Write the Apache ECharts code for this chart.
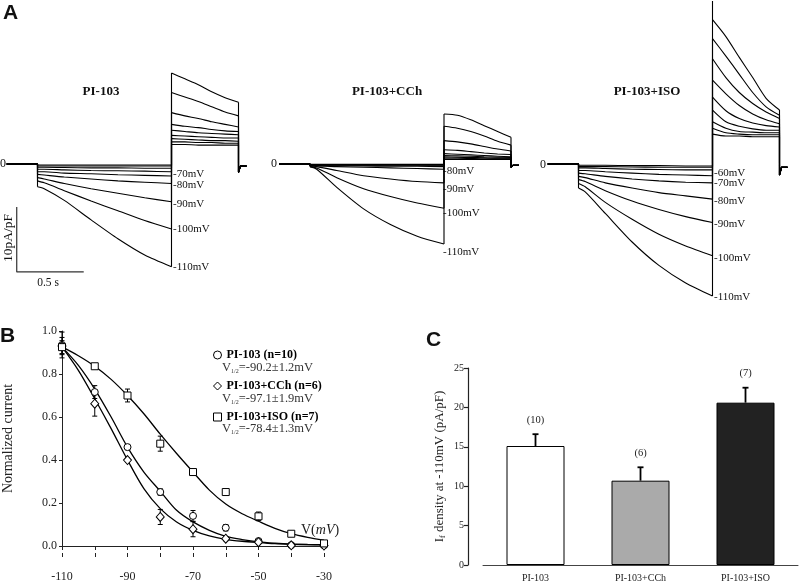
<!DOCTYPE html>
<html><head><meta charset="utf-8">
<script src="https://cdn.jsdelivr.net/npm/echarts@6/dist/echarts.min.js"></script>
<style>html,body{margin:0;padding:0;background:#fff}#c{width:799px;height:583px}</style>
</head><body><div id="c"></div>
<script>
// ================= Panel A : current traces (pA/pF vs s) =================
const traceVoltages = [-110, -100, -90, -80, -70, -60, -50, -40, -30];
const holdStart = -0.23;
const stepTimes = [0, 0.05, 0.2, 0.4, 0.6, 0.8, 1.0];
const tailTimes = [1.0, 1.1, 1.2, 1.3, 1.4, 1.5];
const afterTimes = [1.5, 1.515, 1.56];

const pi103Step = [
  [-3.5, -3.8, -5.6, -8.6, -11.5, -14.0, -15.8],
  [-2.6, -2.9, -4.1, -5.7, -7.2, -8.7, -10.0],
  [-2.1, -2.3, -3.0, -3.8, -4.5, -5.2, -5.8],
  [-1.6, -1.7, -2.0, -2.3, -2.6, -2.8, -3.0],
  [-1.2, -1.2, -1.4, -1.5, -1.65, -1.75, -1.85],
  [-0.8, -0.8, -0.9, -1.0, -1.05, -1.1, -1.2],
  [-0.5, -0.5, -0.55, -0.6, -0.6, -0.65, -0.65],
  [-0.3, -0.3, -0.3, -0.3, -0.3, -0.3, -0.3],
  [-0.15, -0.15, -0.15, -0.15, -0.15, -0.15, -0.15]
];
const pi103Tail = [
  [14.0, 13.1, 12.2, 11.1, 10.2, 9.5],
  [11.0, 10.3, 9.6, 8.8, 8.0, 7.4],
  [7.9, 7.4, 7.0, 6.5, 6.1, 5.7],
  [6.1, 5.8, 5.6, 5.3, 5.1, 5.0],
  [5.2, 5.0, 4.8, 4.7, 4.6, 4.5],
  [4.4, 4.3, 4.2, 4.1, 4.0, 4.0],
  [3.9, 3.8, 3.7, 3.6, 3.6, 3.5],
  [3.4, 3.4, 3.3, 3.3, 3.2, 3.2],
  [3.0, 3.0, 2.9, 2.9, 2.9, 2.9]
];
const pi103After = [-1.3, -0.3, -0.3];

const cchStep = [
  [-0.4, -0.8, -3.6, -6.9, -9.3, -11.1, -12.3],
  [-0.4, -0.6, -2.1, -3.8, -5.0, -6.0, -6.8],
  [-0.3, -0.4, -1.0, -1.8, -2.3, -2.7, -2.9],
  [-0.3, -0.3, -0.4, -0.5, -0.6, -0.7, -0.8],
  [-0.25, -0.25, -0.3, -0.3, -0.35, -0.35, -0.4],
  [-0.2, -0.2, -0.2, -0.2, -0.2, -0.2, -0.2],
  [-0.15, -0.15, -0.15, -0.15, -0.15, -0.15, -0.15],
  [-0.1, -0.1, -0.1, -0.1, -0.1, -0.1, -0.1],
  [-0.05, -0.05, -0.05, -0.05, -0.05, -0.05, -0.05]
];
const cchTail = [
  [7.7, 7.5, 6.8, 5.9, 5.0, 4.1],
  [5.8, 5.5, 5.0, 4.3, 3.5, 2.9],
  [3.6, 3.4, 3.1, 2.7, 2.3, 2.0],
  [2.2, 2.1, 1.9, 1.7, 1.55, 1.45],
  [1.6, 1.5, 1.4, 1.3, 1.2, 1.1],
  [1.3, 1.25, 1.2, 1.1, 1.05, 1.0],
  [1.1, 1.05, 1.0, 0.95, 0.9, 0.9],
  [0.9, 0.9, 0.85, 0.8, 0.8, 0.8],
  [0.7, 0.7, 0.7, 0.7, 0.7, 0.7]
];
const cchAfter = [-0.5, -0.2, -0.2];

const isoStep = [
  [-3.7, -4.3, -7.6, -12.0, -15.6, -18.3, -20.3],
  [-3.0, -3.5, -5.9, -8.5, -10.8, -12.6, -14.1],
  [-2.4, -2.7, -4.1, -5.7, -7.0, -8.1, -9.0],
  [-1.9, -2.1, -2.9, -3.7, -4.4, -4.9, -5.4],
  [-1.4, -1.5, -1.9, -2.3, -2.6, -2.8, -2.9],
  [-1.0, -1.0, -1.2, -1.4, -1.6, -1.7, -1.8],
  [-0.6, -0.6, -0.7, -0.8, -0.85, -0.9, -0.9],
  [-0.4, -0.4, -0.4, -0.45, -0.5, -0.5, -0.5],
  [-0.2, -0.2, -0.2, -0.25, -0.25, -0.3, -0.3]
];
const isoTail = [
  [22.2, 19.6, 16.4, 13.3, 10.1, 8.3],
  [19.3, 16.6, 13.8, 11.0, 8.8, 7.5],
  [16.2, 13.3, 11.0, 9.3, 8.0, 7.0],
  [12.9, 10.8, 9.0, 7.7, 6.8, 6.2],
  [10.3, 8.2, 7.0, 6.3, 5.9, 5.7],
  [8.3, 6.5, 5.8, 5.4, 5.2, 5.2],
  [6.5, 5.5, 5.0, 4.9, 4.8, 4.8],
  [5.5, 4.8, 4.6, 4.5, 4.5, 4.5],
  [4.6, 4.3, 4.3, 4.2, 4.2, 4.2]
];
const isoAfter = [-1.7, -0.5, -0.5];
const isoTailSpike = 26;

const panelATitles = ['PI-103', 'PI-103+CCh', 'PI-103+ISO'];
const scaleBarTime = 0.5;      // s
const scaleBarCurrent = 10;    // pA/pF
const scaleBarOrigin = [-0.155, -16.6];

// ================= Panel B : activation curves =================
const bVolt = [-110, -100, -90, -80, -70, -60, -50, -40, -30];
const piMean  = [0.935, 0.716, 0.46, 0.251, 0.14, 0.085, 0.023, 0.004, 0.003];
const piErr   = [0.06, 0.03, 0.012, 0.015, 0.025, 0.015, 0.006, 0.003, 0.003];
const cchMean = [0.93, 0.662, 0.40, 0.135, 0.078, 0.034, 0.018, 0.003, 0.002];
const cchErr  = [0.04, 0.058, 0.01, 0.035, 0.035, 0.01, 0.005, 0.003, 0.003];
const isoMean = [0.925, 0.836, 0.70, 0.476, 0.344, 0.251, 0.138, 0.057, 0.012];
const isoErr  = [0.03, 0.01, 0.03, 0.035, 0.01, 0.01, 0.02, 0.005, 0.005];
const fitVolt = [-110, -105, -100, -95, -90, -85, -80, -75, -70, -65, -60, -55, -50, -45, -40, -35, -30];
const piFit  = [0.926, 0.84, 0.73, 0.60, 0.46, 0.344, 0.255, 0.166, 0.112, 0.073, 0.045, 0.03, 0.019, 0.013, 0.009, 0.007, 0.006];
const cchFit = [0.926, 0.817, 0.685, 0.546, 0.40, 0.267, 0.174, 0.112, 0.073, 0.047, 0.031, 0.022, 0.016, 0.011, 0.008, 0.006, 0.005];
const isoFit = [0.926, 0.885, 0.836, 0.775, 0.70, 0.615, 0.52, 0.43, 0.344, 0.26, 0.195, 0.15, 0.115, 0.082, 0.057, 0.04, 0.027];
const bNames = ['PI-103 (n=10)', 'PI-103+CCh (n=6)', 'PI-103+ISO (n=7)'];
const bHalf = ['-90.2±1.2mV', '-97.1±1.9mV', '-78.4±1.3mV'];

// ================= Panel C : current density =================
const cCats = ['PI-103', 'PI-103+CCh', 'PI-103+ISO'];
const cMean = [15.1, 10.7, 20.6];
const cErr  = [1.5, 1.7, 1.9];
const cN    = [10, 6, 7];

// ================= layout / style =================
const SERIF = '"Liberation Serif","Times New Roman",serif';
const SANS = '"Liberation Sans",Arial,sans-serif';
const INK = '#111';
const PX_PER_S = 134, PX_PER_UNIT = 6.5;
const aXMin = -0.24, aXMax = 1.6, aYMin = -21, aYMax = 25;
const stepStartPx = [37.5, 310, 578.5];
const baselinePx = 164;

const grids = [];
const xAxes = [];
const yAxes = [];
stepStartPx.forEach((s, p) => {
  grids.push({left: s + aXMin * PX_PER_S, top: baselinePx - aYMax * PX_PER_UNIT,
    width: (aXMax - aXMin) * PX_PER_S, height: (aYMax - aYMin) * PX_PER_UNIT, outerBoundsMode: 'none'});
  xAxes.push({type: 'value', gridIndex: p, min: aXMin, max: aXMax, show: false});
  yAxes.push({type: 'value', gridIndex: p, min: aYMin, max: aYMax, show: false});
});
// Panel B grid (index 3)
grids.push({left: 62, top: 331, width: 262, height: 215, outerBoundsMode: 'none'});
const bAxisLabel = {fontFamily: SERIF, fontSize: 12, color: '#222'};
xAxes.push({type: 'value', gridIndex: 3, position: 'bottom', min: -110, max: -30, interval: 10, offset: 11,
  axisLine: {show: true, lineStyle: {color: '#222', width: 1}},
  axisTick: {show: true, length: 4, lineStyle: {color: '#222'}},
  axisLabel: Object.assign({margin: 14, formatter: v => ((v + 110) % 20 === 0 ? String(v) : '')}, bAxisLabel),
  splitLine: {show: false}});
xAxes.push({type: 'value', gridIndex: 3, position: 'bottom', min: -110, max: -30, interval: 10, offset: 11,
  axisLine: {show: false},
  axisTick: {show: true, inside: true, length: 4, lineStyle: {color: '#222'}},
  axisLabel: {show: false}, splitLine: {show: false}});
yAxes.push({type: 'value', gridIndex: 3, min: 0, max: 1, interval: 0.2,
  axisLine: {show: true, lineStyle: {color: '#222', width: 1}},
  axisTick: {show: true, length: 3, lineStyle: {color: '#222'}},
  axisLabel: Object.assign({margin: 5, formatter: v => v.toFixed(1)}, bAxisLabel),
  splitLine: {show: false},
  name: 'Normalized current', nameLocation: 'middle', nameGap: 47,
  nameTextStyle: {fontFamily: SERIF, fontSize: 14, color: '#222'}});
// Panel C grid (index 4)
grids.push({left: 483, top: 368, width: 315, height: 197, outerBoundsMode: 'none'});
xAxes.push({type: 'category', gridIndex: 4, data: cCats,
  axisLine: {show: true, lineStyle: {color: '#444', width: 1}},
  axisTick: {show: false},
  axisLabel: {margin: 8, fontFamily: SERIF, fontSize: 10, color: '#222'}});
yAxes.push({type: 'value', gridIndex: 4, min: 0, max: 25, interval: 5, offset: 15,
  axisLine: {show: true, lineStyle: {color: '#222', width: 1.2}},
  axisTick: {show: true, length: 4, lineStyle: {color: '#222', width: 1.2}},
  axisLabel: {margin: 4, fontFamily: SERIF, fontSize: 10, color: '#222'},
  splitLine: {show: false},
  name: '{n|I}{s|f}{n| density at -110mV (pA/pF)}', nameLocation: 'middle', nameGap: 21,
  nameTextStyle: {fontFamily: SERIF, fontSize: 13, color: '#222',
    rich: {n: {fontFamily: SERIF, fontSize: 13, color: '#222'},
           s: {fontFamily: SERIF, fontSize: 8, color: '#222', padding: [7, 0, 0, 0]}}}});

// ================= series =================
const series = [];
const BR = ['-', '-'];
const traceStyle = {color: '#000', width: 1.1};
const tracePanels = [
  {step: pi103Step, tail: pi103Tail, after: pi103After, spike: null},
  {step: cchStep, tail: cchTail, after: cchAfter, spike: null},
  {step: isoStep, tail: isoTail, after: isoAfter, spike: isoTailSpike}
];
tracePanels.forEach((pnl, p) => {
  pnl.step.forEach((s, k) => {
    const tl = pnl.tail[k];
    const base = {type: 'line', xAxisIndex: p, yAxisIndex: p, symbol: 'none', silent: true,
      animation: false, lineStyle: traceStyle, z: 2};
    series.push(Object.assign({}, base, {smooth: 0.25,
      data: stepTimes.map((t, i) => [t, s[i]])}));
    series.push(Object.assign({}, base, {smooth: 0.25,
      data: tailTimes.map((t, i) => [t, tl[i]])}));
    const conn = [[holdStart, 0], [0, 0], [0, s[0]], BR, [1.0, s[s.length - 1]]];
    if (pnl.spike !== null && k === 0) conn.push([1.0, pnl.spike]);
    conn.push([1.0, tl[0]], BR, [1.5, tl[tl.length - 1]]);
    afterTimes.forEach((t, i) => conn.push([t, pnl.after[i]]));
    series.push(Object.assign({}, base, {smooth: false, connectNulls: false, data: conn}));
  });
});
// scale bar (panel A, first trace grid)
series.push({type: 'line', xAxisIndex: 0, yAxisIndex: 0, symbol: 'none', silent: true, animation: false,
  lineStyle: {color: '#333', width: 1.2},
  data: [[scaleBarOrigin[0], scaleBarOrigin[1] + scaleBarCurrent], scaleBarOrigin,
         [scaleBarOrigin[0] + scaleBarTime, scaleBarOrigin[1]]]});

// Panel B
[piFit, cchFit, isoFit].forEach(f => {
  series.push({type: 'line', xAxisIndex: 3, yAxisIndex: 3, symbol: 'none', smooth: 0.3, silent: true,
    animation: false, lineStyle: {color: '#000', width: 1.3}, z: 2,
    data: fitVolt.map((v, i) => [v, f[i]])});
});
function errBarB(params, api) {
  const x = api.value(0), m = api.value(1), e = api.value(2);
  const lo = api.coord([x, m - e]), hi = api.coord([x, m + e]);
  const w = 2.5, st = {stroke: '#000', lineWidth: 1};
  return {type: 'group', children: [
    {type: 'line', shape: {x1: lo[0], y1: lo[1], x2: hi[0], y2: hi[1]}, style: st},
    {type: 'line', shape: {x1: lo[0] - w, y1: lo[1], x2: lo[0] + w, y2: lo[1]}, style: st},
    {type: 'line', shape: {x1: hi[0] - w, y1: hi[1], x2: hi[0] + w, y2: hi[1]}, style: st}]};
}
const bSets = [[piMean, piErr, 'circle', 7], [cchMean, cchErr, 'diamond', [8, 9]], [isoMean, isoErr, 'rect', 7]];
bSets.forEach(([m, e]) => {
  series.push({type: 'custom', xAxisIndex: 3, yAxisIndex: 3, renderItem: errBarB, silent: true,
    animation: false, z: 3, encode: {x: 0, y: 1},
    data: bVolt.map((v, i) => [v, m[i], e[i]])});
});
bSets.forEach(([m, e, sym, size], j) => {
  series.push({type: 'scatter', name: bNames[j], xAxisIndex: 3, yAxisIndex: 3, symbol: sym, symbolSize: size,
    animation: false, z: 4, itemStyle: {color: '#fff', borderColor: '#000', borderWidth: 1, opacity: 1},
    data: bVolt.map((v, i) => [v, m[i]])});
});

// Panel C
const cFill = ['#ffffff', '#aaaaaa', '#222222'];
series.push({type: 'bar', xAxisIndex: 5, yAxisIndex: 4, barWidth: 58, animation: false, z: 2,
  data: cMean.map((v, i) => ({value: v, itemStyle: {color: cFill[i], borderColor: '#000', borderWidth: 1}}))});
series.push({type: 'custom', xAxisIndex: 5, yAxisIndex: 4, animation: false, z: 3, encode: {x: 0, y: 1},
  renderItem: (params, api) => {
    const i = api.value(0), m = api.value(1), e = api.value(2), n = api.value(3);
    const b = api.coord([i, m]), t = api.coord([i, m + e]);
    const st = {stroke: '#000', lineWidth: 1.8};
    return {type: 'group', children: [
      {type: 'line', shape: {x1: b[0], y1: b[1], x2: t[0], y2: t[1]}, style: st},
      {type: 'line', shape: {x1: t[0] - 3, y1: t[1], x2: t[0] + 3, y2: t[1]}, style: st},
      {type: 'text', x: t[0], y: t[1] - 14, style: {text: '(' + n + ')', fontFamily: SERIF, fontSize: 10.5,
        fill: '#222', align: 'center', verticalAlign: 'middle'}}]};
  },
  data: cMean.map((v, i) => [i, v, cErr[i], cN[i]])});

// ================= texts =================
const T = (text, x, y, o) => Object.assign({type: 'text', x, y, silent: true,
  style: Object.assign({text, fontFamily: SERIF, fontSize: 11, fill: INK, align: 'left', verticalAlign: 'middle'}, o || {})});
const graphic = [
  T('A', 3, 13, {fontFamily: SANS, fontSize: 21, fontWeight: 'bold'}),
  T('B', 0, 336, {fontFamily: SANS, fontSize: 21, fontWeight: 'bold'}),
  T('C', 426, 340, {fontFamily: SANS, fontSize: 21, fontWeight: 'bold'}),
  T(panelATitles[0], 101, 92, {fontSize: 13, fontWeight: 'bold', align: 'center'}),
  T(panelATitles[1], 387, 92, {fontSize: 13, fontWeight: 'bold', align: 'center'}),
  T(panelATitles[2], 647, 92, {fontSize: 13, fontWeight: 'bold', align: 'center'}),
  T('0', 0, 164, {fontSize: 12}),
  T('0', 271, 164, {fontSize: 12}),
  T('0', 540, 165, {fontSize: 12}),
  T('0.5 s', 48, 283, {fontSize: 11.5, align: 'center'}),
  Object.assign(T('10pA/pF', 8, 238, {fontSize: 13.5, align: 'center'}), {rotation: Math.PI / 2}),
  // voltage labels
  T('-70mV', 173, 174), T('-80mV', 173, 185), T('-90mV', 173, 204), T('-100mV', 173, 229), T('-110mV', 173, 267),
  T('-80mV', 443, 171), T('-90mV', 443, 189), T('-100mV', 443, 213), T('-110mV', 443, 252),
  T('-60mV', 714, 173), T('-70mV', 714, 183), T('-80mV', 714, 201), T('-90mV', 714, 224), T('-100mV', 714, 258), T('-110mV', 714, 297),
  // panel B extras
  {type: 'text', x: 301, y: 530, silent: true, style: {
    text: '{n|V(}{i|mV}{n|)}', verticalAlign: 'middle',
    rich: {n: {fontFamily: SERIF, fontSize: 14, fill: '#222'}, i: {fontFamily: SERIF, fontSize: 14, fontStyle: 'italic', fill: '#222'}}}}
];
[368, 399, 429].forEach((y, j) => {
  graphic.push({type: 'text', x: 222, y, silent: true, style: {
    text: '{v|V}{s|1/2}{v|=' + bHalf[j] + '}', verticalAlign: 'middle',
    rich: {v: {fontFamily: SERIF, fontSize: 12.5, fill: '#333'},
           s: {fontFamily: SERIF, fontSize: 6, fill: '#333', padding: [6, 0, 0, 0]}}}});
});

const chart = echarts.init(document.getElementById('c'), null, {renderer: 'canvas'});
chart.setOption({
  backgroundColor: '#fff',
  animation: false,
  grid: grids, xAxis: xAxes, yAxis: yAxes,
  legend: {data: bNames, orient: 'vertical', left: 208, top: 343, itemWidth: 8, itemHeight: 8, itemGap: 17,
    selectedMode: false,
    itemStyle: {color: '#fff', borderColor: '#000', borderWidth: 1},
    textStyle: {fontFamily: SERIF, fontSize: 12, fontWeight: 'bold', color: '#000', lineHeight: 14}},
  series, graphic
});
</script></body></html>
